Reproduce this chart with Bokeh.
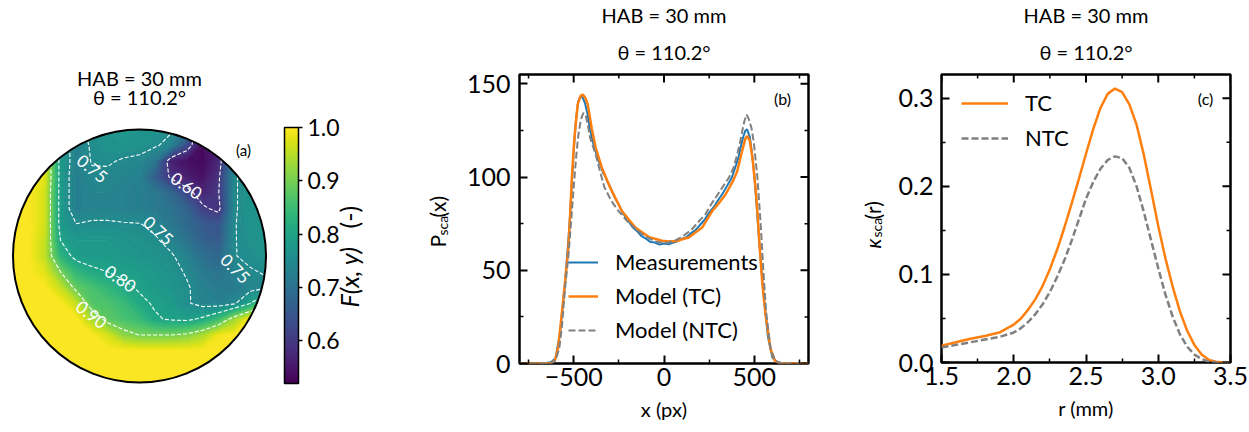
import numpy as np
from bokeh.plotting import figure
from bokeh.layouts import row
from bokeh.models import (Range1d, FixedTicker, Legend, LegendItem, Title,
                          ColorBar, LinearColorMapper, PrintfTickFormatter)
from bokeh.palettes import Viridis256
from bokeh.core.properties import value
from bokeh.embed import file_html
from bokeh.resources import INLINE

FONT = "Lato"
TITLE_1 = "HAB = 30 mm"
TITLE_2 = "θ = 110.2°"
H = 430

# ---------------- Panel (a): F(x, y) on the normalised disc ----------------
grid_pos = [-1.0, -0.875, -0.75, -0.625, -0.5, -0.375, -0.25, -0.125, 0.0,
            0.125, 0.25, 0.375, 0.5, 0.625, 0.75, 0.875, 1.0]
# rows from top (y = +1) to bottom (y = -1)
F_rows = [
    [1.00, 1.00, 0.98, 0.78, 0.74, 0.76, 0.77, 0.775, 0.77, 0.765, 0.755, 0.70, 0.53, 0.57, 0.76, 0.77, 0.77],
    [1.00, 1.00, 0.98, 0.78, 0.73, 0.755, 0.765, 0.77, 0.765, 0.755, 0.735, 0.63, 0.53, 0.57, 0.745, 0.77, 0.77],
    [1.00, 1.00, 0.98, 0.78, 0.73, 0.752, 0.755, 0.745, 0.74, 0.71, 0.56, 0.54, 0.53, 0.57, 0.745, 0.77, 0.77],
    [1.00, 1.00, 0.98, 0.78, 0.725, 0.745, 0.74, 0.735, 0.73, 0.66, 0.59, 0.56, 0.54, 0.59, 0.745, 0.77, 0.77],
    [1.00, 1.00, 0.97, 0.78, 0.725, 0.735, 0.735, 0.73, 0.725, 0.71, 0.68, 0.62, 0.57, 0.598, 0.745, 0.77, 0.77],
    [1.00, 1.00, 0.97, 0.78, 0.725, 0.735, 0.735, 0.73, 0.725, 0.715, 0.70, 0.67, 0.61, 0.585, 0.745, 0.77, 0.77],
    [1.00, 1.00, 0.97, 0.78, 0.751, 0.755, 0.755, 0.753, 0.752, 0.74, 0.71, 0.685, 0.655, 0.645, 0.748, 0.765, 0.77],
    [1.00, 1.00, 0.96, 0.80, 0.775, 0.775, 0.775, 0.77, 0.762, 0.755, 0.735, 0.70, 0.67, 0.655, 0.748, 0.763, 0.77],
    [1.00, 1.00, 0.955, 0.83, 0.785, 0.78, 0.78, 0.775, 0.77, 0.765, 0.755, 0.73, 0.695, 0.68, 0.749, 0.755, 0.765],
    [1.00, 1.00, 0.98, 0.90, 0.835, 0.81, 0.80, 0.79, 0.785, 0.775, 0.765, 0.745, 0.715, 0.70, 0.73, 0.748, 0.752],
    [1.00, 1.00, 1.00, 0.96, 0.885, 0.86, 0.835, 0.81, 0.795, 0.78, 0.77, 0.755, 0.73, 0.715, 0.72, 0.735, 0.745],
    [1.00, 1.00, 1.00, 1.00, 0.96, 0.87, 0.865, 0.845, 0.81, 0.795, 0.78, 0.755, 0.735, 0.73, 0.745, 0.80, 0.88],
    [1.00, 1.00, 1.00, 1.00, 1.00, 0.94, 0.88, 0.86, 0.845, 0.805, 0.795, 0.79, 0.81, 0.85, 0.93, 1.00, 1.00],
    [1.00, 1.00, 1.00, 1.00, 1.00, 1.00, 0.97, 0.92, 0.90, 0.90, 0.90, 0.91, 0.94, 0.99, 1.00, 1.00, 1.00],
    [1.00] * 17,
    [1.00] * 17,
    [1.00] * 17,
]
F_line_levels = [0.60, 0.75, 0.80, 0.90]
F_low, F_high = 0.52, 1.0
cbar_ticks = [0.6, 0.7, 0.8, 0.9, 1.0]
clabel_text = ["0.75", "0.60", "0.75", "0.75", "0.80", "0.90"]
clabel_u = [-0.372, 0.372, 0.150, 0.759, -0.150, -0.379]
clabel_v = [0.692, 0.557, 0.202, -0.099, -0.178, -0.462]
clabel_deg = [-39, -35, -42, -45, -35, -38]

# ---------------- Panel (b): P_sca(x) ----------------
x_meas = [-700, -675, -650, -625, -600, -575, -550, -525, -500, -487,
          -475, -462, -450, -437, -425, -412, -400, -387, -375, -362,
          -350, -337, -325, -312, -300, -275, -250, -225, -200, -175,
          -150, -125, -100, -75, -50, -25, 0, 25, 50, 75,
          100, 125, 150, 175, 200, 225, 250, 275, 300, 325,
          350, 375, 400, 412, 425, 437, 450, 460, 475, 487,
          500, 512, 525, 550, 575, 600, 625, 650, 675, 700]
y_meas = [0, 0.1, 0.3, 0.8, 2.8, 17, 41, 72, 114, 131,
          140.5, 143.2, 142.6, 139.5, 134.5, 127, 121.5, 116.2, 112.8, 108.5,
          106.1, 102.2, 100.4, 97.2, 95.3, 89.4, 85.1, 80.2, 77.0, 73.2,
          71.1, 68.3, 67.0, 65.2, 64.9, 63.8, 64.4, 63.9, 64.8, 65.6,
          66.9, 67.8, 69.9, 71.6, 74.4, 77.1, 80.9, 83.8, 87.7, 91.2,
          95.4, 99.6, 106.8, 110.5, 116.2, 121, 124.8, 125.6, 121.5, 113,
          101, 86, 68, 38, 14.5, 3.2, 0.9, 0.3, 0.1, 0]
x_tc = [-800, -650, -625, -604, -585, -567, -548, -530, -520, -511,
        -496, -478, -462, -450, -436, -422, -400, -378, -344, -298,
        -233, -159, -85, -11, 30, 63, 137, 211, 267, 300,
        340, 380, 405, 430, 450, 461, 475, 490, 507, 518,
        530, 544, 563, 590, 613, 640, 800]
y_tc = [0, 0, 0.3, 1.6, 9, 25.7, 43.5, 61.3, 79, 98,
        121, 139, 143.5, 144.2, 142.5, 139, 126, 115.7, 105, 94.3,
        81.8, 72.9, 67.9, 65.8, 65.5, 65.6, 67.6, 72.9, 81.8, 85.5,
        90.5, 97.5, 103, 113, 120.5, 122, 119.5, 110, 94, 80,
        62, 43.5, 25.7, 7.8, 1.6, 0, 0]
x_ntc = [-800, -650, -620, -600, -580, -565, -548, -530, -515, -502,
         -487, -475, -460, -446, -432, -418, -409, -378, -354, -330,
         -290, -252, -200, -150, -100, -50, 0, 50, 100, 150,
         200, 229, 267, 300, 330, 359, 385, 405, 420, 433,
         445, 457, 470, 485, 498, 517, 535, 550, 565, 590,
         615, 645, 800]
y_ntc = [0, 0, 0.3, 1.8, 8, 20, 40, 57, 75, 92,
         110, 122, 131, 134.4, 132.5, 126, 121, 112, 103, 94.5,
         87, 81.8, 76, 71.5, 68, 65.5, 64.5, 65.5, 68, 71.5,
         77, 80, 86.3, 91, 95.5, 99.6, 105, 112, 118, 124.6,
         130, 133.5, 131, 126, 118, 100, 75, 50, 28, 8,
         1.5, 0, 0]
b_xticks, b_xminor = [-500, 0, 500], [-750, -250, 250, 750]
b_yticks, b_yminor = [0, 50, 100, 150], [25, 75, 125]

# ---------------- Panel (c): kappa_sca(r) ----------------
r_c = [1.50, 1.60, 1.70, 1.80, 1.90, 2.00, 2.05, 2.10, 2.15, 2.20, 2.25, 2.30,
       2.35, 2.40, 2.45, 2.50, 2.55, 2.60, 2.65, 2.70, 2.75, 2.80, 2.85, 2.90,
       2.95, 3.00, 3.05, 3.10, 3.15, 3.20, 3.25, 3.30, 3.35, 3.40, 3.45, 3.50]
k_tc = [0.019, 0.023, 0.027, 0.030, 0.034, 0.043, 0.050, 0.060, 0.072, 0.087, 0.106, 0.128,
        0.153, 0.180, 0.208, 0.237, 0.265, 0.289, 0.305, 0.311, 0.307, 0.293, 0.270, 0.236,
        0.196, 0.155, 0.118, 0.086, 0.058, 0.036, 0.020, 0.009, 0.003, 0.001, 0.000, 0.000]
k_ntc = [0.017, 0.020, 0.023, 0.026, 0.029, 0.034, 0.039, 0.046, 0.055, 0.066, 0.080, 0.097,
         0.116, 0.138, 0.162, 0.186, 0.205, 0.220, 0.230, 0.234, 0.232, 0.221, 0.200, 0.171,
         0.139, 0.107, 0.077, 0.052, 0.032, 0.018, 0.009, 0.004, 0.001, 0.000, 0.000, 0.000]
c_xticks, c_xminor = [1.5, 2.0, 2.5, 3.0, 3.5], [1.75, 2.25, 2.75, 3.25]
c_yticks, c_yminor = [0.0, 0.1, 0.2, 0.3], [0.05, 0.15, 0.25]

BLUE, ORANGE, GRAY = "#1f77b4", "#ff7f0e", "#808080"


def no_align(p):
    if "frame_align" in p.properties():
        p.frame_align = False


def vcolor(v):
    return Viridis256[int(np.clip(round((v - F_low) / (F_high - F_low) * 255), 0, 255))]


def rot_text(p, xs, ys, texts, sizes, styles=None):
    for i, (x, y, t, s) in enumerate(zip(xs, ys, texts, sizes)):
        p.text(x=[x], y=[y], text=[t], angle=np.pi / 2, text_align="left", text_baseline="middle",
               text_color="black", text_font=value(FONT), text_font_size=s,
               text_font_style=(styles[i] if styles else "normal"))


# =============== figure (a) (also carries the y label of (b)) ===============
pa = figure(width=463, height=H, x_range=Range1d(-1.09881, 2.56126),
            y_range=Range1d((255.5 - H) / 126.5, 2.01976),
            x_axis_location=None, y_axis_location=None, output_backend="svg",
            toolbar_location=None, min_border=0, title=None)
pa.grid.visible = False
pa.outline_line_color = None
no_align(pa)

gx = np.array(grid_pos)
Z = np.array(F_rows)[::-1]
fill_levels = np.round(np.arange(0.50, 1.0051, 0.005), 4)
mids = (fill_levels[:-1] + fill_levels[1:]) / 2
fill_cols = [vcolor(m) for m in mids]
seam_cols = [vcolor(l) for l in fill_levels]
pa.contour(gx, gx, Z, list(fill_levels), fill_color=fill_cols, line_color=seam_cols, line_width=1.2)
pa.contour(gx, gx, Z, F_line_levels, line_color="white", line_dash="4 2", line_width=1.1)

th = np.linspace(0, 2 * np.pi, 361)
pa.multi_polygons(xs=[[[[-1.06, 1.06, 1.06, -1.06], list(np.cos(th))]]],
                  ys=[[[[-1.06, -1.06, 1.06, 1.06], list(np.sin(th))]]],
                  fill_color="white", line_color=None)
pa.circle(x=[0], y=[0], radius=1.0, fill_color=None, line_color="black", line_width=2)

pa.text(x=clabel_u, y=clabel_v, text=clabel_text, angle=[np.deg2rad(a) for a in clabel_deg],
        text_align="center", text_baseline="middle", text_color="white",
        text_font=value(FONT), text_font_size="17px")
pa.text(x=[0, 0], y=[1.4071, 1.2530], text=[TITLE_1, TITLE_2], text_align="center",
        text_baseline="middle", text_color="black", text_font=value(FONT), text_font_size="20px")
pa.text(x=[0.822], y=[0.834], text=["(a)"], text_align="center", text_baseline="middle",
        text_color="black", text_font=value(FONT), text_font_size="15px")
# colour-bar label F(x, y) (-)
rot_text(pa, [1.66, 1.66], [-0.4071, 0.2174], ["F(x, y)", "(-)"], ["25px", "25px"], ["italic", "normal"])
# y label of panel (b): P_sca(x)
rot_text(pa, [2.3557, 2.3953, 2.3557], [0.0672, 0.1621, 0.3043], ["P", "sca", "(x)"],
         ["21px", "14px", "21px"])

mapper = LinearColorMapper(palette=Viridis256, low=F_low, high=F_high)
cb = ColorBar(color_mapper=mapper, ticker=FixedTicker(ticks=cbar_ticks), formatter=PrintfTickFormatter(format="%.1f"),
              width=14, height=256, location=(284, H - 383), padding=0, margin=0,
              major_tick_in=0, major_tick_out=4, major_tick_line_color="black", major_tick_line_width=1.5,
              minor_tick_line_color=None, bar_line_color="black", bar_line_width=1.5, label_standoff=5,
              major_label_text_font=FONT, major_label_text_font_size="23px", major_label_text_color="black",
              background_fill_alpha=0, border_line_color=None)
pa.add_layout(cb)


def style_axes(p, xt, xm, yt, ym, xr, yr, xlabel, xfmt=None, yfmt=None, xover=None):
    p.grid.visible = False
    p.outline_line_color = "black"
    p.outline_line_width = 2.5
    for ax, t, m, fmt in [(p.below[0], xt, xm, xfmt), (p.left[0], yt, ym, yfmt)]:
        ax.ticker = FixedTicker(ticks=t, minor_ticks=m)
        ax.axis_line_color = None
        ax.major_tick_in = 8
        ax.major_tick_out = 0
        ax.minor_tick_in = 4
        ax.minor_tick_out = 0
        ax.major_tick_line_width = 2
        ax.minor_tick_line_width = 1.5
        ax.major_tick_line_color = "black"
        ax.minor_tick_line_color = "black"
        ax.major_label_text_font = FONT
        ax.major_label_text_color = "black"
        ax.major_label_text_font_size = "25px"
        if fmt is not None:
            ax.formatter = fmt
    if xover:
        p.below[0].major_label_overrides = xover
    p.left[0].major_label_standoff = 9
    bx = p.below[0]
    bx.major_label_standoff = 4
    bx.axis_label = xlabel
    bx.axis_label_text_font = FONT
    bx.axis_label_text_font_size = "20px"
    bx.axis_label_text_font_style = "normal"
    bx.axis_label_text_color = "black"
    bx.axis_label_standoff = 8
    # mirrored inward ticks on the top and right edges
    p.ray(x=xt, y=[yr[1]] * len(xt), length=8, length_units="screen", angle=-np.pi / 2,
          line_color="black", line_width=2)
    p.ray(x=xm, y=[yr[1]] * len(xm), length=4, length_units="screen", angle=-np.pi / 2,
          line_color="black", line_width=1.5)
    p.ray(x=[xr[1]] * len(yt), y=yt, length=8, length_units="screen", angle=np.pi,
          line_color="black", line_width=2)
    p.ray(x=[xr[1]] * len(ym), y=ym, length=4, length_units="screen", angle=np.pi,
          line_color="black", line_width=1.5)
    # two-line title (first added sits next to the frame)
    p.add_layout(Title(text=TITLE_2, align="center", text_font=FONT, text_font_size="20px",
                       text_font_style="normal", text_color="black", standoff=21), "above")
    p.add_layout(Title(text=TITLE_1, align="center", text_font=FONT, text_font_size="20px",
                       text_font_style="normal", text_color="black", standoff=1), "above")


# =============== figure (b) ===============
b_xr, b_yr = (-800, 800), (0, 155)
pb = figure(width=387, height=H, x_range=Range1d(*b_xr), y_range=Range1d(*b_yr),
            output_backend="svg", toolbar_location=None, title=None,
            min_border_left=55, min_border_right=42, min_border_top=73, min_border_bottom=H - 363)
no_align(pb)
rb1 = pb.line(x_meas, y_meas, line_color=BLUE, line_width=2)
rb2 = pb.line(x_tc, y_tc, line_color=ORANGE, line_width=2.5)
rb3 = pb.line(x_ntc, y_ntc, line_color=GRAY, line_width=2, line_dash="7 3")
style_axes(pb, b_xticks, b_xminor, b_yticks, b_yminor, b_xr, b_yr, "x (px)", xover={-500: "−500"})
leg_b = Legend(items=[LegendItem(label="Measurements", renderers=[rb1]),
                      LegendItem(label="Model (TC)", renderers=[rb2]),
                      LegendItem(label="Model (NTC)", renderers=[rb3])],
               location=(49, 20), glyph_width=30, glyph_height=20, label_height=20, label_standoff=17,
               spacing=7, padding=0, margin=0, border_line_color=None, background_fill_alpha=0,
               label_text_font=FONT, label_text_font_size="22px", label_text_color="black")
pb.add_layout(leg_b)
pb.text(x=[656.6], y=[142.2], text=["(b)"], text_align="center", text_baseline="middle",
        text_color="black", text_font=value(FONT), text_font_size="16px")

# =============== spacer figure carrying the y label of (c) ===============
SX0, SX1 = 850, 895
ps = figure(width=SX1 - SX0, height=H, x_range=Range1d(SX0, SX1), y_range=Range1d(H, 0),
            x_axis_location=None, y_axis_location=None, output_backend="svg",
            toolbar_location=None, min_border=0, title=None)
ps.grid.visible = False
ps.outline_line_color = None
no_align(ps)
rot_text(ps, [871.5, 875.5, 871.5], [248, 237, 219], ["κ", "sca", "(r)"], ["21px", "14px", "21px"],
         ["italic", "normal", "normal"])

# =============== figure (c) ===============
c_xr, c_yr = (1.5, 3.5), (0, 0.327)
pc = figure(width=1249 - 463 - 387 - (SX1 - SX0), height=H, x_range=Range1d(*c_xr), y_range=Range1d(*c_yr),
            output_backend="svg", toolbar_location=None, title=None,
            min_border_left=940 - SX1, min_border_right=19, min_border_top=73, min_border_bottom=H - 362)
no_align(pc)
rc1 = pc.line(r_c, k_tc, line_color=ORANGE, line_width=2.5)
rc2 = pc.line(r_c, k_ntc, line_color=GRAY, line_width=2.5, line_dash="7 3")
style_axes(pc, c_xticks, c_xminor, c_yticks, c_yminor, c_xr, c_yr, "r (mm)",
           xfmt=PrintfTickFormatter(format="%.1f"), yfmt=PrintfTickFormatter(format="%.1f"))
pc.left[0].major_label_standoff = 8
leg_c = Legend(items=[LegendItem(label="TC", renderers=[rc1]),
                      LegendItem(label="NTC", renderers=[rc2])],
               location=(20, 211), glyph_width=47, glyph_height=20, label_height=20, label_standoff=17,
               spacing=8, padding=0, margin=0, border_line_color=None, background_fill_alpha=0,
               label_text_font=FONT, label_text_font_size="22px", label_text_color="black")
pc.add_layout(leg_c)
pc.text(x=[3.3276], y=[0.2998], text=["(c)"], text_align="center", text_baseline="middle",
        text_color="black", text_font=value(FONT), text_font_size="16px")

layout = row(pa, pb, ps, pc)
open("out.html", "w").write(file_html(layout, INLINE))
